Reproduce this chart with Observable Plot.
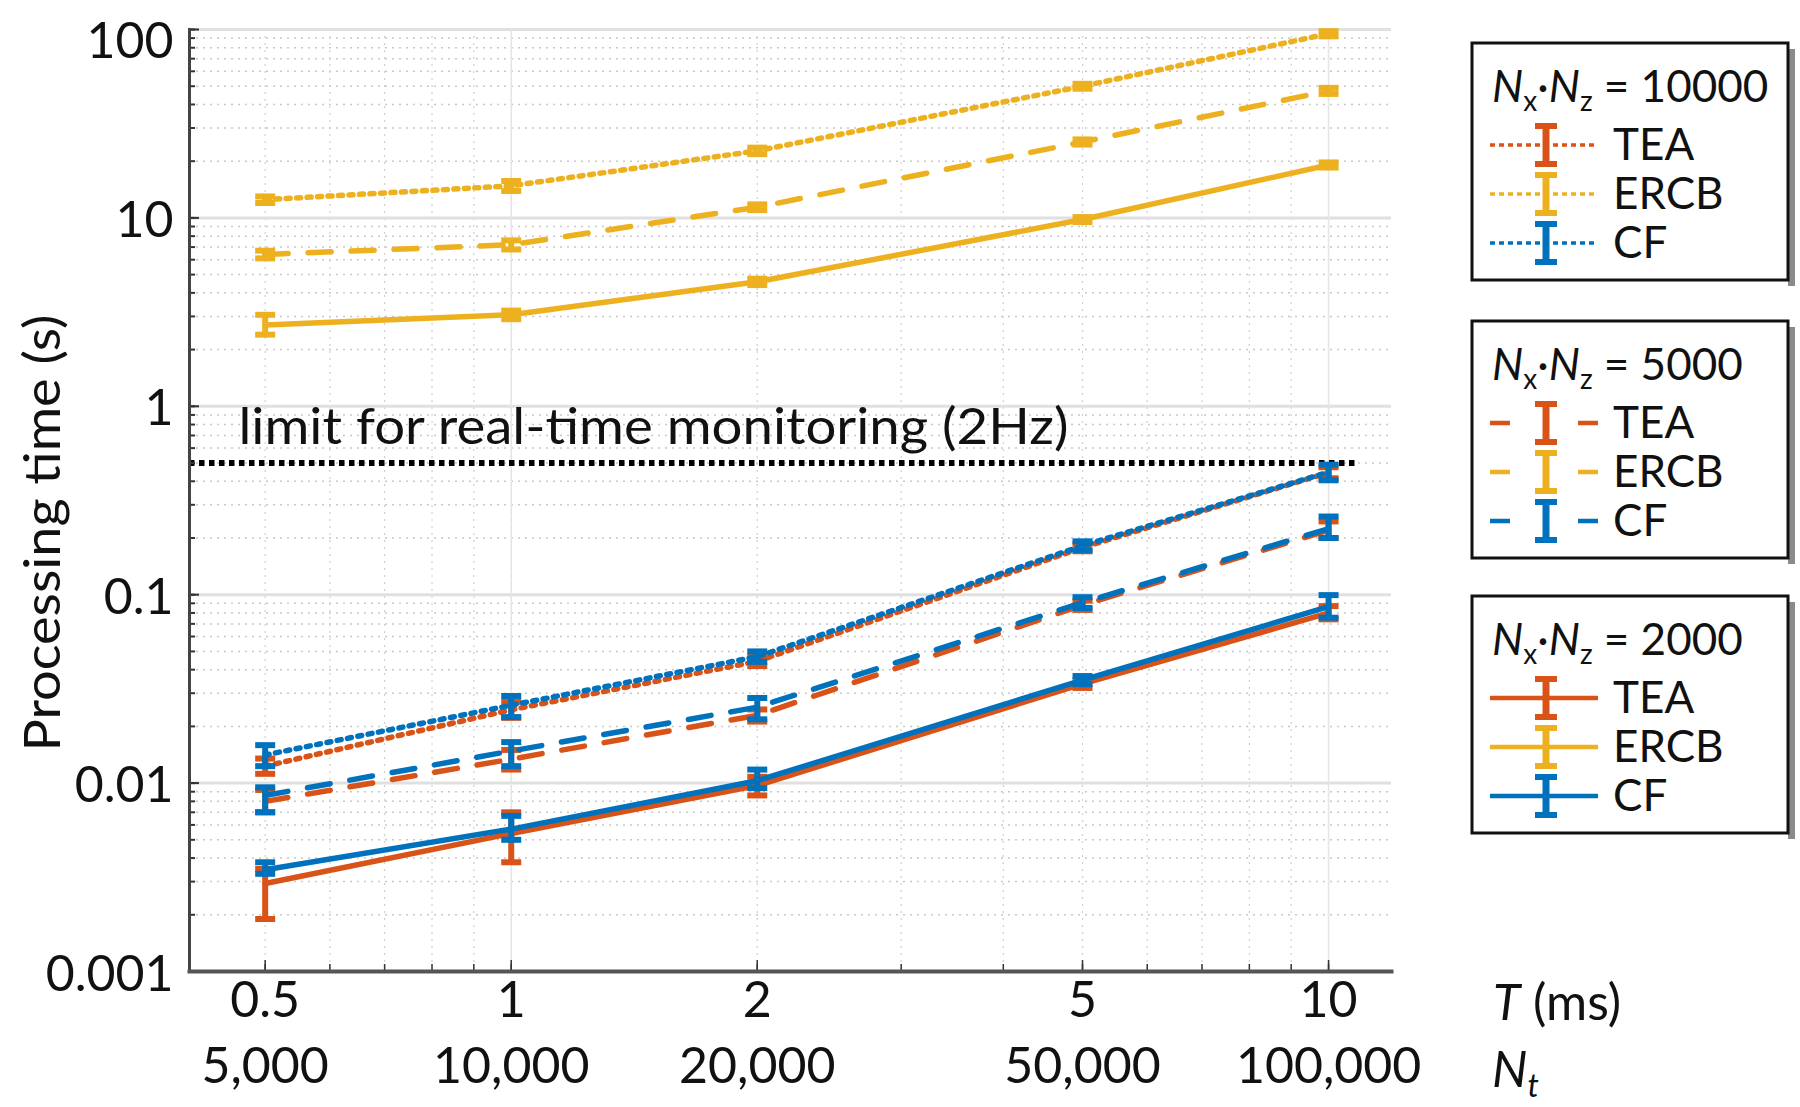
<!DOCTYPE html>
<html><head><meta charset="utf-8">
<script src="https://cdn.jsdelivr.net/npm/d3@7"></script>
<script src="https://cdn.jsdelivr.net/npm/@observablehq/plot@0.6"></script>
<style>
body{margin:0;background:#fff;}
#chart{position:relative;width:1800px;height:1107px;}
svg{font-family:Lato,"Open Sans",sans-serif;}
</style>
</head><body><div id="chart"></div>
<script>
// ---- data ----
const T = [0.5, 1, 2, 5, 10];
const Nt = ["5,000", "10,000", "20,000", "50,000", "100,000"];
const yTicks = [0.001, 0.01, 0.1, 0.5, 1, 10, 100];
const yTickLabels = ["0.001", "0.01", "0.1", "0.5", "1", "10", "100"];
const methods = ["TEA", "ERCB", "CF"];
const gridSizes = [10000, 5000, 2000];
const limitValue = 0.5;
const limitLabel = "limit for real-time monitoring (2Hz)";

// Nx·Nz = 10000 (dotted)
const TEA_10000    = [0.0123, 0.0245, 0.0443, 0.178, 0.445];
const TEA_10000_lo = [0.0112, 0.0222, 0.0418, 0.170, 0.415];
const TEA_10000_hi = [0.0135, 0.0270, 0.0470, 0.186, 0.475];
const ERCB_10000    = [12.5, 14.8, 22.7, 50, 95];
const ERCB_10000_lo = [12.0, 13.9, 21.8, 48.5, 92];
const ERCB_10000_hi = [13.0, 15.7, 23.6, 51.5, 98];
const CF_10000    = [0.0141, 0.0259, 0.0469, 0.182, 0.447];
const CF_10000_lo = [0.0123, 0.0224, 0.0440, 0.172, 0.405];
const CF_10000_hi = [0.0159, 0.0290, 0.0500, 0.192, 0.490];

// Nx·Nz = 5000 (dashed)
const TEA_5000    = [0.0080, 0.0134, 0.0229, 0.088, 0.220];
const TEA_5000_lo = [0.0070, 0.0118, 0.0212, 0.083, 0.200];
const TEA_5000_hi = [0.0092, 0.0150, 0.0246, 0.093, 0.245];
const ERCB_5000    = [6.4, 7.2, 11.4, 25.3, 47.2];
const ERCB_5000_lo = [6.1, 6.8, 11.0, 24.5, 45.5];
const ERCB_5000_hi = [6.7, 7.6, 11.8, 26.1, 49.0];
const CF_5000    = [0.0086, 0.0148, 0.0253, 0.0907, 0.224];
const CF_5000_lo = [0.0070, 0.0123, 0.0218, 0.085, 0.200];
const CF_5000_hi = [0.0095, 0.0165, 0.0283, 0.097, 0.260];

// Nx·Nz = 2000 (solid)
const TEA_2000    = [0.00293, 0.0054, 0.0097, 0.0336, 0.080];
const TEA_2000_lo = [0.0019, 0.0038, 0.0086, 0.032, 0.074];
const TEA_2000_hi = [0.0035, 0.0070, 0.0108, 0.0352, 0.087];
const ERCB_2000    = [2.70, 3.06, 4.58, 9.8, 19.1];
const ERCB_2000_lo = [2.40, 2.90, 4.40, 9.5, 18.5];
const ERCB_2000_hi = [3.06, 3.22, 4.76, 10.1, 19.7];
const CF_2000    = [0.00347, 0.0057, 0.0103, 0.0352, 0.0864];
const CF_2000_lo = [0.0033, 0.0050, 0.0094, 0.0335, 0.0755];
const CF_2000_hi = [0.0038, 0.0067, 0.0118, 0.037, 0.0995];

// ---- styling ----
const colors = {TEA: "#D95319", ERCB: "#EDB120", CF: "#0072BD"};
const dashes = {10000: "4,6.5", 5000: "23,20", 2000: null};

const series = [
  {m: "TEA", n: 10000, v: TEA_10000, lo: TEA_10000_lo, hi: TEA_10000_hi},
  {m: "ERCB", n: 10000, v: ERCB_10000, lo: ERCB_10000_lo, hi: ERCB_10000_hi},
  {m: "CF", n: 10000, v: CF_10000, lo: CF_10000_lo, hi: CF_10000_hi},
  {m: "TEA", n: 5000, v: TEA_5000, lo: TEA_5000_lo, hi: TEA_5000_hi},
  {m: "ERCB", n: 5000, v: ERCB_5000, lo: ERCB_5000_lo, hi: ERCB_5000_hi},
  {m: "CF", n: 5000, v: CF_5000, lo: CF_5000_lo, hi: CF_5000_hi},
  {m: "TEA", n: 2000, v: TEA_2000, lo: TEA_2000_lo, hi: TEA_2000_hi},
  {m: "ERCB", n: 2000, v: ERCB_2000, lo: ERCB_2000_lo, hi: ERCB_2000_hi},
  {m: "CF", n: 2000, v: CF_2000, lo: CF_2000_lo, hi: CF_2000_hi}
];

const W = 1800, H = 1107;
const mL = 189, mR = W - 1391, mT = 29, mB = H - 971;
const plotW = W - mL - mR, plotH = H - mT - mB;

const xMinor = [0.5, 0.6, 0.7, 0.8, 0.9, 1, 2, 3, 4, 5, 6, 7, 8, 9, 10];
const yMinor = d3.range(-3, 2).flatMap(e => d3.range(1, 10).map(k => +(k * Math.pow(10, e)).toPrecision(3))).concat([100]);
const yMajor = [0.001, 0.01, 0.1, 1, 10, 100];

const capSymbol = {draw(ctx, size) { const r = Math.sqrt(size / Math.PI); ctx.moveTo(-r, 0); ctx.lineTo(r, 0); }};

const marks = [
  // grid
  Plot.ruleY(yMinor, {stroke: "#c8c8c8", strokeWidth: 1.5, strokeDasharray: "2,5"}),
  Plot.ruleX(xMinor, {stroke: "#d0d0d0", strokeWidth: 1.2, strokeDasharray: "2,5"}),
  Plot.ruleY(yMajor, {stroke: "#e0e0e0", strokeWidth: 3}),
  Plot.ruleX([1, 10], {stroke: "#e6e6e6", strokeWidth: 1.5}),
  // limit line
  Plot.ruleY([limitValue], {stroke: "#000", strokeWidth: 6, strokeDasharray: "5.5,4.5", insetRight: 33}),
  Plot.text([limitLabel], {y: () => limitValue, frameAnchor: "left", textAnchor: "start", dx: 49, dy: -35, fontSize: 50, fill: "#111", className: "limit-label"})
];

for (const s of series) {
  const rows = T.map((t, i) => ({t, v: s.v[i], lo: s.lo[i], hi: s.hi[i]}));
  const c = colors[s.m];
  marks.push(Plot.line(rows, {x: "t", y: "v", stroke: c, strokeWidth: 5.5, strokeDasharray: dashes[s.n], curve: "linear"}));
  marks.push(Plot.ruleX(rows, {x: "t", y1: "lo", y2: "hi", stroke: c, strokeWidth: 6}));
  marks.push(Plot.dot(rows, {x: "t", y: "lo", r: 10, symbol: capSymbol, stroke: c, strokeWidth: 6, fill: "none"}));
  marks.push(Plot.dot(rows, {x: "t", y: "hi", r: 10, symbol: capSymbol, stroke: c, strokeWidth: 6, fill: "none"}));
}

// axes
const yTicksTop = yTicks.filter(d => d === 100);
const yTicksRest = yTicks.filter(d => d !== 100);
marks.push(
  Plot.ruleX(xMinor, {stroke: "#333", strokeWidth: 1.5, insetTop: plotH - 7}),
  Plot.ruleX(T, {stroke: "#333", strokeWidth: 1.5, insetTop: plotH - 11}),
  Plot.ruleY(yMinor, {stroke: "#333", strokeWidth: 2, insetRight: plotW - 6}),
  Plot.ruleY(yMajor, {stroke: "#333", strokeWidth: 2, insetRight: plotW - 10}),
  Plot.axisY({ticks: yTicksRest, tickFormat: d => yTickLabels[yTicks.indexOf(d)], tickSize: 0, tickPadding: 16, fontSize: 50, dy: 3, label: null}),
  Plot.axisY({ticks: yTicksTop, tickFormat: d => yTickLabels[yTicks.indexOf(d)], tickSize: 0, tickPadding: 16, fontSize: 50, dy: 12, label: null}),
  Plot.axisX({ticks: T, tickFormat: d => String(d), tickSize: 0, tickPadding: 10, fontSize: 50, label: null}),
  Plot.axisX({ticks: T, tickFormat: d => Nt[T.indexOf(d)], tickSize: 0, tickPadding: 76, fontSize: 50, label: null}),
  Plot.frame({anchor: "left", stroke: "#444", strokeWidth: 3}),
  Plot.frame({anchor: "bottom", stroke: "#555", strokeWidth: 4})
);

const chart = Plot.plot({
  width: W, height: H,
  marginLeft: mL, marginRight: mR, marginTop: mT, marginBottom: mB,
  style: {fontFamily: "Lato, 'Open Sans', sans-serif", color: "#111", background: "#fff", overflow: "visible"},
  x: {type: "log", domain: [0.404, 11.94]},
  y: {type: "log", domain: [0.001, 100]},
  marks
});
document.getElementById("chart").appendChild(chart);

// ---- annotations outside plot frame ----
const svg = d3.select(chart);
const ff = "Lato, 'Open Sans', sans-serif";

svg.selectAll(".limit-label text").attr("textLength", 830).attr("lengthAdjust", "spacingAndGlyphs");

svg.append("text").attr("transform", "translate(42,533) rotate(-90)")
  .attr("text-anchor", "middle").attr("dy", "0.35em").attr("font-size", 51).attr("fill", "#111")
  .attr("font-family", ff).attr("textLength", 437).attr("lengthAdjust", "spacingAndGlyphs")
  .text("Processing time (s)");

const tl = svg.append("text").attr("x", 1493).attr("y", 1002).attr("dy", "0.35em")
  .attr("text-anchor", "start").attr("font-size", 50).attr("fill", "#111").attr("font-family", ff);
tl.append("tspan").attr("font-style", "italic").text("T");
tl.append("tspan").text(" (ms)");

const nl = svg.append("text").attr("x", 1492).attr("y", 1069).attr("dy", "0.35em")
  .attr("text-anchor", "start").attr("font-size", 50).attr("fill", "#111").attr("font-family", ff);
nl.append("tspan").attr("font-style", "italic").text("N");
nl.append("tspan").attr("font-style", "italic").attr("font-size", 32).attr("dy", 10).text("t");

// ---- legend ----
const boxTops = [43, 321, 596];
gridSizes.forEach((n, gi) => {
  const top = boxTops[gi];
  const g = svg.append("g").attr("font-family", ff).attr("text-anchor", "start");
  g.append("rect").attr("x", 1788).attr("y", top + 6).attr("width", 7).attr("height", 237)
    .attr("fill", "#8a8a8a");
  g.append("rect").attr("x", 1472).attr("y", top).attr("width", 316).attr("height", 237)
    .attr("fill", "#fff").attr("stroke", "#111").attr("stroke-width", 3);
  const title = g.append("text").attr("x", 1492).attr("y", top + 44).attr("dy", "0.35em")
    .attr("font-size", 44).attr("fill", "#111");
  title.append("tspan").attr("font-style", "italic").text("N");
  title.append("tspan").attr("font-size", 28).attr("dy", 9).text("x");
  title.append("tspan").attr("dy", -9).text("·");
  title.append("tspan").attr("font-style", "italic").text("N");
  title.append("tspan").attr("font-size", 28).attr("dy", 9).text("z");
  title.append("tspan").attr("dy", -9).text(" = " + n);
  methods.forEach((m, mi) => {
    const cy = top + 102 + mi * 49;
    const c = colors[m];
    let da = null, sw = 4.5;
    if (n === 10000) { da = "5,4"; sw = 3.5; }
    if (n === 5000) { da = "20,68"; }
    g.append("line").attr("x1", 1490).attr("x2", 1598).attr("y1", cy).attr("y2", cy)
      .attr("stroke", c).attr("stroke-width", sw).attr("stroke-dasharray", da);
    g.append("line").attr("x1", 1546).attr("x2", 1546).attr("y1", cy - 19).attr("y2", cy + 19)
      .attr("stroke", c).attr("stroke-width", 7);
    [cy - 19, cy + 19].forEach(yy => g.append("line").attr("x1", 1535).attr("x2", 1557)
      .attr("y1", yy).attr("y2", yy).attr("stroke", c).attr("stroke-width", 6));
    g.append("text").attr("x", 1613).attr("y", cy).attr("dy", "0.35em").attr("font-size", 44)
      .attr("fill", "#111").text(m);
  });
});
</script>
</body></html>
